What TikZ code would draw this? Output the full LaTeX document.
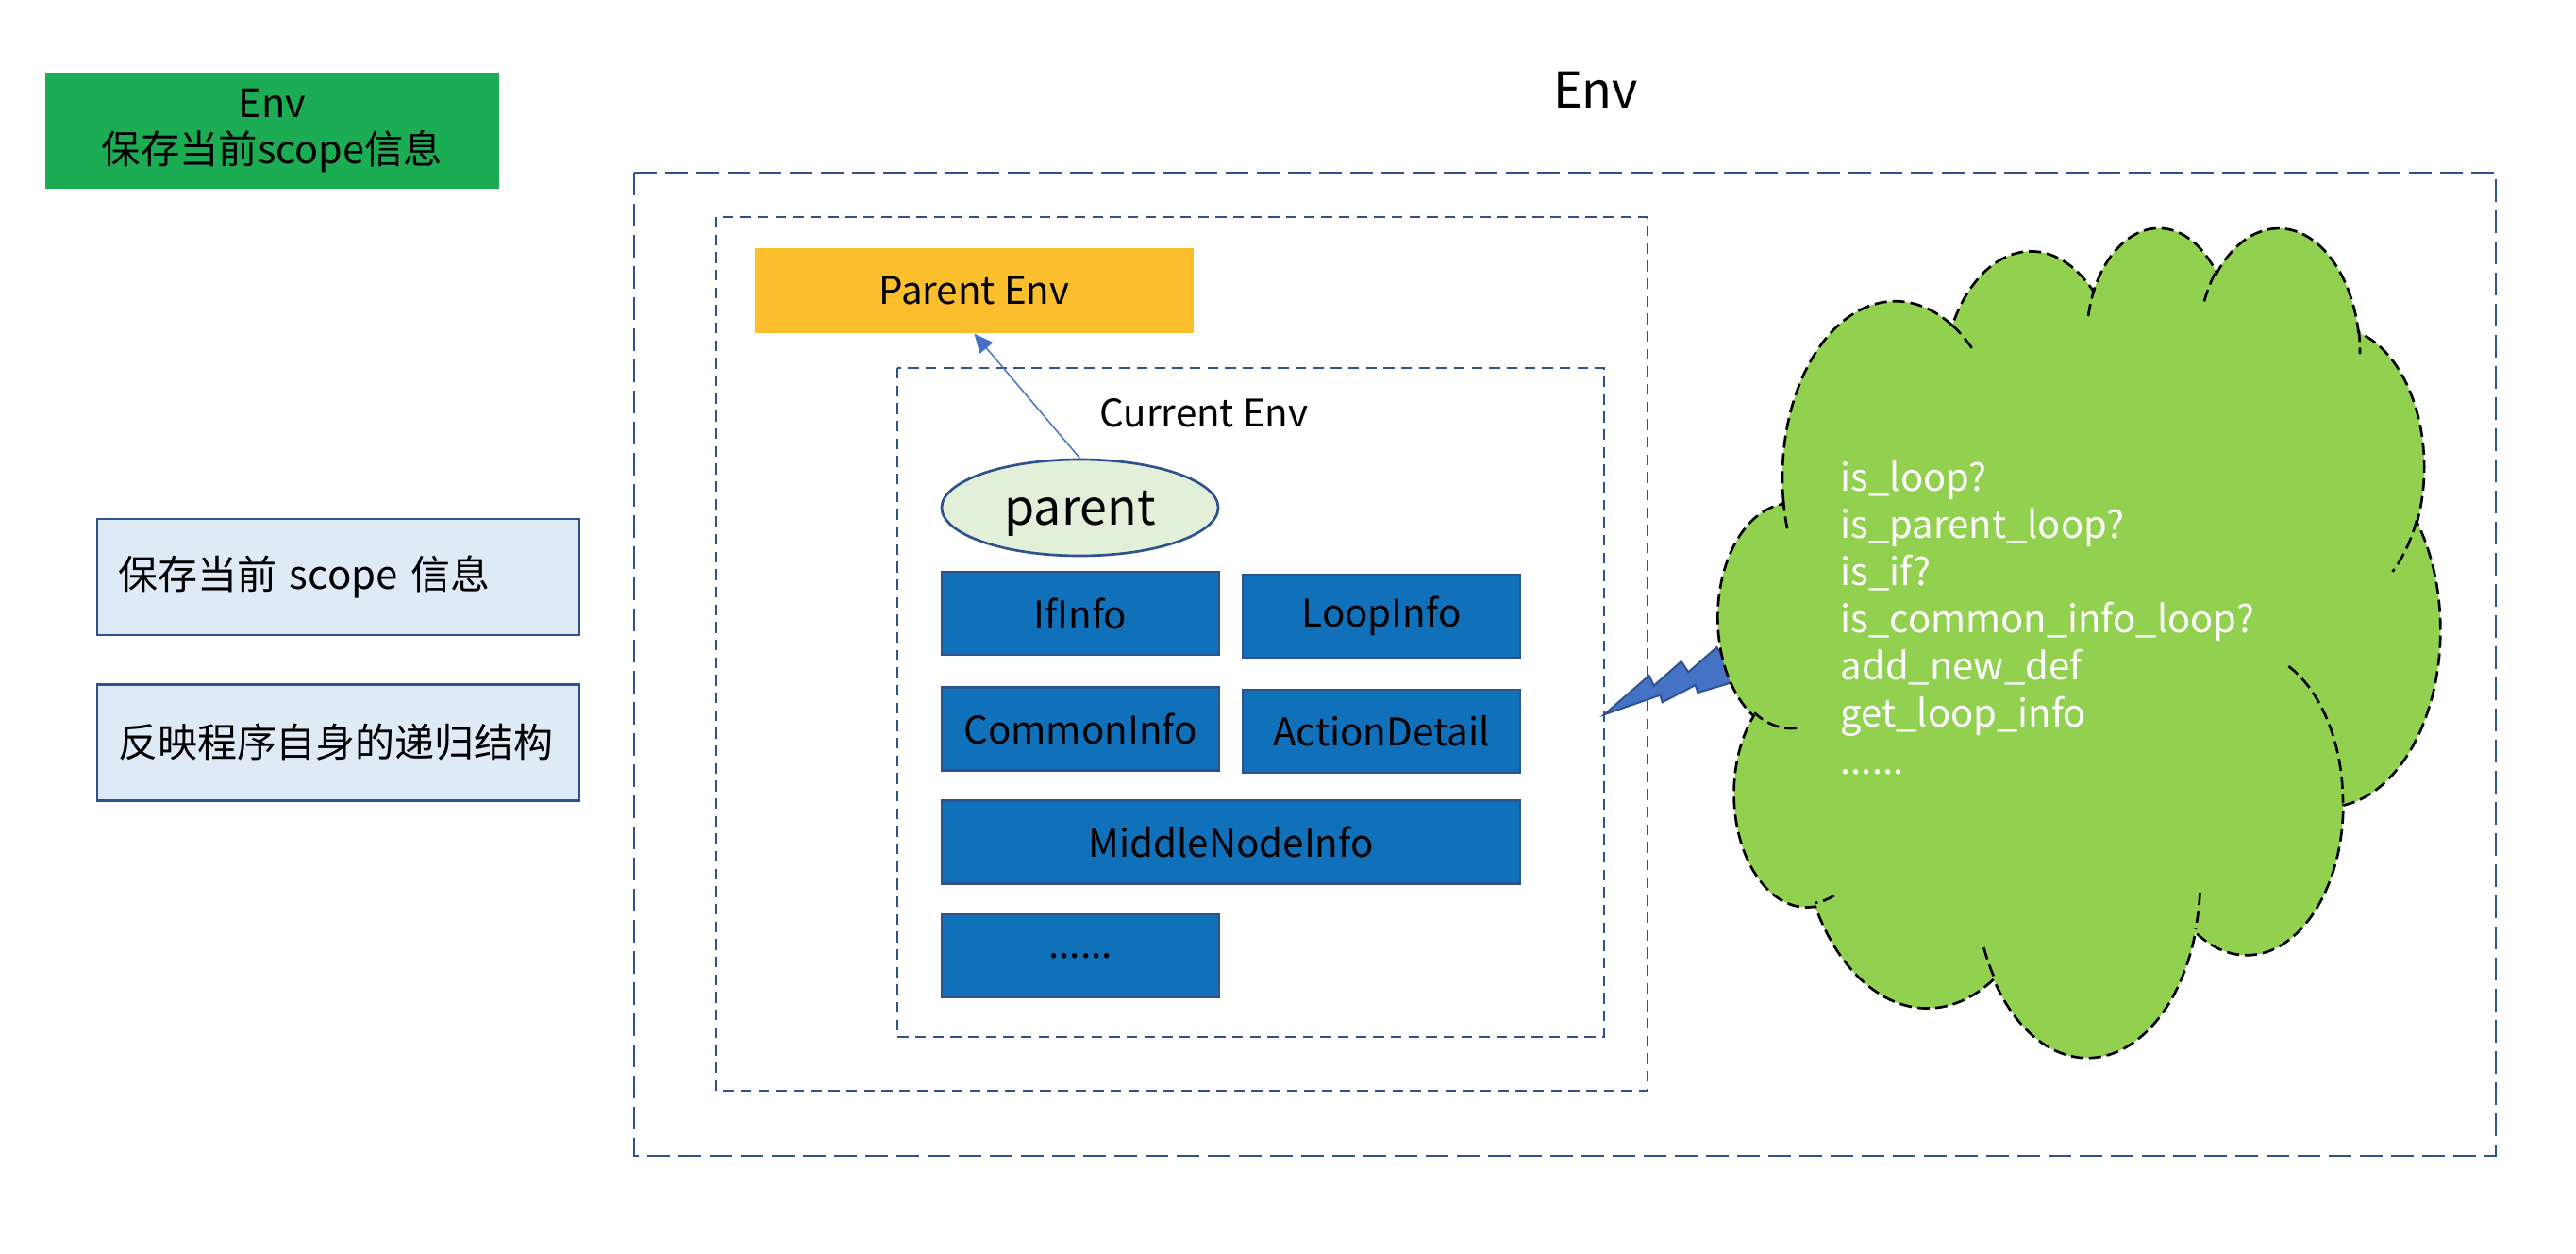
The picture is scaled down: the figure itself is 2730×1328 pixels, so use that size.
\documentclass[tikz,border=0pt]{standalone}
\usepackage{fontspec}
\setmainfont{Noto Sans CJK SC}
\usetikzlibrary{arrows.meta,shapes.geometric}
\definecolor{gboxc}{RGB}{28,173,84}
\definecolor{lbfill}{RGB}{222,235,247}
\definecolor{dblue}{RGB}{47,82,143}
\definecolor{penvc}{RGB}{251,191,45}
\definecolor{bboxc}{RGB}{17,112,186}
\definecolor{efill}{RGB}{226,240,217}
\definecolor{cloudc}{RGB}{146,208,80}
\definecolor{accent}{RGB}{68,114,196}
% OOXML-style arcTo: radii #1,#2, start angle #3, sweep #4 (visual angles)
\newcommand\cldarc[4]{%
  \pgfmathsetmacro\cldA{atan2((#1)*sin(#3),(#2)*cos(#3))}%
  \pgfmathsetmacro\cldA{\cldA-360*round((\cldA-(#3))/360)}%
  \pgfmathsetmacro\cldB{atan2((#1)*sin((#3)+(#4)),(#2)*cos((#3)+(#4)))}%
  \pgfmathsetmacro\cldB{\cldB-360*round((\cldB-(#3)-(#4))/360)}%
  \pgfpatharcaxes{\cldA}{\cldB}{\pgfpointxy{#1}{0}}{\pgfpointxy{0}{#2}}}
\begin{document}
\begin{tikzpicture}[x=0.3pt,y=-0.3pt,
  lbl/.style={inner sep=0pt, font=\fontsize{12.1pt}{14pt}\selectfont},
  greenbox/.style={fill=gboxc, inner sep=0pt, minimum width=144.3pt, minimum height=36.9pt,
    align=center, font=\fontsize{12.4pt}{14.7pt}\selectfont},
  notebox/.style={draw=dblue, line width=0.8pt, fill=lbfill, minimum height=36.9pt,
    inner xsep=6.6pt, inner ysep=0pt, text width=140.1pt, align=left,
    font=\fontsize{12.6pt}{14.7pt}\selectfont},
  infobox/.style={draw=dblue, line width=0.8pt, fill=bboxc, minimum width=88.2pt,
    minimum height=26.4pt, inner sep=0pt, font=\fontsize{12.1pt}{14pt}\selectfont},
  longdash/.style={draw=dblue, line width=0.85pt, dash pattern=on 7.2pt off 2.7pt},
  shortdash/.style={draw=dblue, line width=0.85pt, dash pattern=on 3.4pt off 2.2pt},
]
\useasboundingbox[fill=white] (0,0) rectangle (2730,1328);

% legend on the left
\node[greenbox] (legend) at (288.5,138.5) {Env\\保存当前scope信息};
\node[notebox] (note1) at (358.5,611.5) {保存当前 scope 信息};
\node[notebox] (note2) at (358.5,787) {反映程序自身的递归结构};

% title
\node[inner sep=0pt, font=\fontsize{15.7pt}{18pt}\selectfont] (title) at (1691,95) {Env};

% dashed frames
\draw[longdash] (672,183) rectangle (2645,1225);
\draw[shortdash] (759,230) rectangle (1746,1156);
\draw[shortdash] (951,390) rectangle (1700,1099);

% parent env
\node[fill=penvc, minimum width=139.5pt, minimum height=27pt, inner sep=0pt,
  font=\fontsize{12.1pt}{14pt}\selectfont] (penv) at (1032.5,308) {Parent Env};
\node[lbl] (cur) at (1276,438) {Current Env};

% parent pointer
\node[ellipse, draw=dblue, line width=0.8pt, fill=efill, minimum width=87.9pt,
  minimum height=30.6pt, inner sep=0pt, font=\fontsize{15.6pt}{18pt}\selectfont]
  (parent) at (1144.5,538) {\raisebox{-2pt}[\height][\depth]{parent}};
\draw[accent, line width=0.45pt, -{Triangle[length=6pt,width=5.4pt]}] (parent.north) -- (penv.south);

% info boxes
\node[infobox] (ifinfo) at (1145,650) {IfInfo};
\node[infobox] (loopinfo) at (1464,653) {LoopInfo};
\node[infobox] (common) at (1145,772.5) {CommonInfo};
\node[infobox] (action) at (1464,775) {ActionDetail};
\node[infobox, minimum width=183.9pt] (middle) at (1304.5,892.5) {MiddleNodeInfo};
\node[infobox] (more) at (1145,1013) {......};

% lightning bolt
\filldraw[fill=accent, draw=dblue, line width=0.6pt]
  (1700,757.3) -- (1747.7,716) -- (1752.7,726.7) -- (1781.7,701) -- (1789.3,712.3)
  -- (1819.3,686) -- (1840.7,721.7) -- (1799.3,734) -- (1796.7,726) -- (1761.7,744.3)
  -- (1759.3,736.7) -- cycle;

% cloud
\begin{scope}[shift={(1821,239)}, x=0.53125pt, y=-0.61042pt]
  \pgfsetfillcolor{cloudc}
  \pgfsetstrokecolor{black}
  \pgfsetlinewidth{0.8pt}
  \pgfsetdash{{3.9pt}{1.8pt}}{0pt}
  \pgfpathmoveto{\pgfpointxy{39}{143.7}}
  \cldarc{67.53}{91.90}{-190.4875}{123.7805}
  \cldarc{53.33}{72.67}{-144.1024}{89.9452}
  \cldarc{43.65}{59.45}{-145.8079}{99.7230}
  \cldarc{48.57}{65.95}{-130.9861}{117.2417}
  \cldarc{53.33}{72.73}{-78.7089}{109.0269}
  \cldarc{67.75}{92.20}{-46.2673}{130.2690}
  \cldarc{57.85}{78.67}{0.6250}{114.0333}
  \cldarc{67.52}{92.15}{22.4516}{115.1726}
  \cldarc{77.20}{105.43}{66.2426}{75.7110}
  \cldarc{43.60}{59.18}{-274.9421}{146.7356}
  \cldarc{43.45}{59.45}{-246.8285}{152.5189}
  \pgfpathclose
  \pgfusepath{fill,stroke}
  \pgfpathmoveto{\pgfpointxy{46.93}{261.77}}\cldarc{43.45}{59.45}{86.7420}{26.4295}
  \pgfpathmoveto{\pgfpointxy{69.28}{348.99}}\cldarc{43.60}{59.18}{73.6105}{11.4475}
  \pgfpathmoveto{\pgfpointxy{164.78}{390.90}}\cldarc{67.52}{92.15}{137.6242}{14.0811}
  \pgfpathmoveto{\pgfpointxy{288.27}{347.51}}\cldarc{67.52}{92.15}{6.4533}{15.9984}
  \pgfpathmoveto{\pgfpointxy{341.29}{229.54}}\cldarc{57.85}{78.67}{-70.2924}{70.9174}
  \pgfpathmoveto{\pgfpointxy{417.98}{153.54}}\cldarc{53.33}{72.73}{30.3180}{27.7515}
  \pgfpathmoveto{\pgfpointxy{383.24}{54.26}}\cldarc{48.57}{65.95}{-13.7443}{14.8589}
  \pgfpathmoveto{\pgfpointxy{290.78}{39.52}}\cldarc{48.57}{65.95}{-149.1815}{18.1954}
  \pgfpathmoveto{\pgfpointxy{221.41}{47.20}}\cldarc{43.65}{59.45}{-163.4943}{17.6864}
  \pgfpathmoveto{\pgfpointxy{140.00}{51.92}}\cldarc{67.53}{91.90}{-66.7070}{12.3194}
  \pgfpathmoveto{\pgfpointxy{41.27}{157.89}}\cldarc{67.53}{91.90}{157.6544}{11.8582}
  \pgfusepath{stroke}
\end{scope}

% cloud text
\node[anchor=west, align=left, text=white, inner sep=0pt,
  font=\fontsize{12pt}{15pt}\selectfont] (cloudtext) at (1950,655)
  {is\_loop?\\is\_parent\_loop?\\is\_if?\\is\_common\_info\_loop?\\add\_new\_def\\get\_loop\_info\\......};
\end{tikzpicture}
\end{document}
